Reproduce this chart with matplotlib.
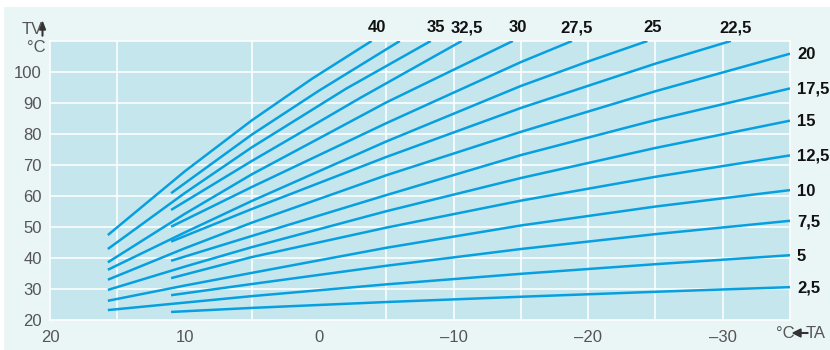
import matplotlib
matplotlib.use("Agg")
import matplotlib.pyplot as plt
from matplotlib.patches import Rectangle, FancyArrow

plt.rcParams['font.family'] = ['Liberation Sans Narrow', 'Liberation Sans', 'DejaVu Sans']

# heating curve slopes and the (outdoor temp, flow temp) points along each curve
slopes = [2.5, 5, 7.5, 10, 12.5, 15, 17.5, 20, 22.5, 25, 27.5, 30, 32.5, 35, 37.5, 40]

curve_ta = [
    [11, 5, -5, -15, -25, -35],
    [15.7, 10, 5, -5, -15, -25, -35],
    [11, 5, -5, -15, -25, -35],
    [15.7, 10, 5, -5, -15, -25, -35],
    [11, 5, -5, -15, -25, -35],
    [15.7, 10, 5, -5, -15, -25, -35],
    [11, 5, -5, -15, -25, -35],
    [15.7, 10, 5, -5, -15, -25, -35],
    [11, 5, -5, -15, -25, -30.6],
    [15.7, 10, 5, -5, -15, -20, -24.4],
    [11, 5, -5, -15, -18.8],
    [15.7, 10, 5, -5, -14.4],
    [11, 5, -3, -10.6],
    [15.7, 10, 5, -2, -8.3],
    [11, 5, 0, -6.0],
    [15.7, 10, 5, 0.5, -3.9],
]
curve_tv = [
    [22.6, 23.9, 25.8, 27.5, 29.1, 30.6],
    [23.2, 25.6, 27.7, 31.5, 34.9, 38.0, 40.9],
    [28.0, 31.6, 37.5, 42.9, 47.7, 52.0],
    [26.2, 31.1, 35.2, 43.3, 50.5, 56.6, 61.9],
    [33.5, 40.3, 49.8, 58.5, 66.2, 73.1],
    [29.7, 37.2, 43.5, 55.1, 65.8, 75.5, 84.3],
    [39.1, 47.1, 60.3, 73.2, 84.5, 94.7],
    [33.0, 43.1, 51.4, 66.7, 80.7, 93.8, 105.9],
    [45.3, 55.8, 72.6, 88.4, 102.7, 110],
    [36.2, 48.2, 58.4, 77.6, 95.5, 103.4, 110],
    [50.1, 62.9, 83.5, 103.2, 110],
    [38.6, 54.2, 67.0, 90.2, 110],
    [55.5, 71.3, 91.5, 110],
    [42.9, 60.9, 75.7, 94.6, 110],
    [60.9, 79.8, 94.0, 110],
    [47.4, 67.9, 84.4, 97.9, 110],
]
unlabelled = [37.5]

x_ticks = [20, 10, 0, -10, -20, -30]
x_ticklabels = ['20', '10', '0', '\u201310', '\u201320', '\u201330']
y_ticks = [20, 30, 40, 50, 60, 70, 80, 90, 100]
x_grid = [15, 5, -5, -10, -15, -20, -25, -30]

W, H = 830, 350
line_col = '#06a0e0'
plot_bg = '#c6e6ee'
panel_bg = '#eaf5f6'
tick_col = '#555555'

fig = plt.figure(figsize=(W / 100, H / 100), dpi=100, facecolor=panel_bg)
# thin white margin along the top and left edges
fig.patches.append(Rectangle((0, 1 - 7 / H), 1, 7 / H, transform=fig.transFigure,
                             facecolor='white', edgecolor='none', zorder=-5))
fig.patches.append(Rectangle((0, 0), 4 / W, 1, transform=fig.transFigure,
                             facecolor='white', edgecolor='none', zorder=-5))

ax = fig.add_axes([50 / W, (H - 320) / H, 740 / W, (320 - 41) / H])
ax.set_facecolor(plot_bg)
ax.set_xlim(20, -35)
ax.set_ylim(20, 110)

for g in x_grid:
    ax.axvline(g, color='white', lw=1.1, zorder=1)
for g in y_ticks[1:]:
    ax.axhline(g, color='white', lw=1.1, zorder=1)
for sp in ax.spines.values():
    sp.set_color('white')
    sp.set_linewidth(1.1)

ax.set_xticks(x_ticks)
ax.set_xticklabels(x_ticklabels)
ax.set_yticks(y_ticks)
ax.tick_params(length=0, colors=tick_col, labelsize=12, pad=6)
ax.tick_params(axis='x', pad=7)

for s, ta, tv in zip(slopes, curve_ta, curve_tv):
    ax.plot(ta, tv, color=line_col, lw=1.8, solid_capstyle='butt',
            solid_joinstyle='round', zorder=3)
    if s in unlabelled:
        continue
    lab = f"{s:g}".replace('.', ',')
    if tv[-1] >= 110:
        ax.annotate(lab, (ta[-1], 110), xytext=(5, 13), textcoords='offset pixels',
                    ha='center', va='center', fontsize=12, color='#111111',
                    fontweight='bold', annotation_clip=False)
    else:
        ax.annotate(lab, (ta[-1], tv[-1]), xytext=(7, -1), textcoords='offset pixels',
                    ha='left', va='center', fontsize=12, color='#111111',
                    fontweight='bold', annotation_clip=False)

# axis captions
fig.text(36 / W, 1 - 47 / H, '°C', ha='center', va='center', fontsize=12, color=tick_col)
fig.text(32 / W, 1 - 29 / H, 'TV', ha='center', va='center', fontsize=12, color=tick_col)
fig.patches.append(FancyArrow(
    42.5 / W, 1 - 36 / H, 0, 14 / H, width=0.0008, head_width=6 / W, head_length=8 / H,
    length_includes_head=True, transform=fig.transFigure, color='#333333'))

fig.text(785 / W, 1 - 333 / H, '°C', ha='center', va='center', fontsize=12, color=tick_col)
fig.text(816 / W, 1 - 333 / H, 'TA', ha='center', va='center', fontsize=12, color=tick_col)
fig.patches.append(FancyArrow(
    808 / W, 1 - 333 / H, -15 / W, 0, width=0.002, head_width=8 / H, head_length=8 / W,
    length_includes_head=True, transform=fig.transFigure, color='#333333'))

fig.savefig('out.png', dpi=100, facecolor=fig.get_facecolor())
